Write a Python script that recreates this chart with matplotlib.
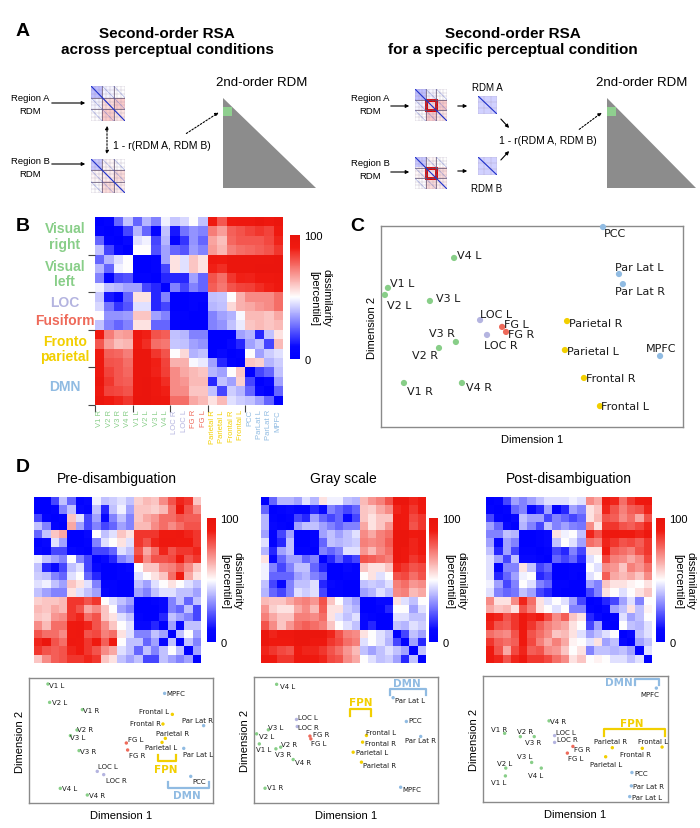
import numpy as np
import matplotlib.pyplot as plt
from matplotlib.colors import LinearSegmentedColormap
from matplotlib.patches import Polygon, Rectangle

plt.rcParams['font.family'] = ['Liberation Sans', 'DejaVu Sans']

# ---------------- data ----------------
regions = ['V1 R', 'V2 R', 'V3 R', 'V4 R', 'V1 L', 'V2 L', 'V3 L', 'V4 L',
           'LOC R', 'LOC L', 'FG R', 'FG L', 'Parietal R', 'Parietal L',
           'Frontal R', 'Frontal L', 'PCC', 'Par Lat L', 'Par Lat R', 'MPFC']
tick_names = ['V1 R', 'V2 R', 'V3 R', 'V4 R', 'V1 L', 'V2 L', 'V3 L', 'V4 L',
              'LOC R', 'LOC L', 'FG R', 'FG L', 'Parietal R', 'Parietal L',
              'Frontal R', 'Frontal L', 'PCC', 'ParLat L', 'ParLat R', 'MPFC']
groups = ['vis'] * 8 + ['loc'] * 2 + ['fg'] * 2 + ['fpn'] * 4 + ['dmn'] * 4
group_labels = ['Visual\nright', 'Visual\nleft', 'LOC', 'Fusiform', 'Fronto\nparietal', 'DMN']
group_rows = [1.5, 5.5, 8.5, 10.5, 13.5, 17.5]
group_keys = ['vis', 'vis', 'loc', 'fg', 'fpn', 'dmn']

# dissimilarity percentiles, across conditions (panel B)
rdm_all = [
    [0, 5, 25, 40, 25, 38, 30, 48, 42, 45, 50, 40, 88, 78, 92, 92, 92, 95, 92, 95],
    [5, 0, 5, 20, 38, 25, 5, 40, 10, 30, 35, 30, 65, 62, 75, 78, 80, 82, 80, 90],
    [25, 5, 0, 10, 45, 48, 20, 38, 5, 15, 35, 30, 70, 62, 78, 78, 80, 78, 82, 88],
    [40, 20, 10, 0, 50, 50, 22, 35, 30, 20, 38, 30, 65, 60, 70, 72, 75, 78, 80, 85],
    [25, 38, 45, 50, 0, 0, 5, 35, 55, 45, 60, 55, 92, 90, 95, 95, 96, 96, 96, 97],
    [38, 25, 48, 50, 0, 0, 5, 20, 55, 45, 60, 55, 88, 85, 95, 96, 96, 97, 97, 97],
    [30, 5, 20, 22, 5, 5, 0, 15, 15, 15, 35, 25, 82, 80, 88, 90, 92, 93, 93, 95],
    [48, 40, 38, 35, 35, 20, 15, 0, 30, 20, 30, 25, 78, 75, 82, 85, 85, 88, 90, 93],
    [40, 15, 5, 20, 55, 55, 15, 30, 0, 0, 5, 5, 40, 42, 50, 65, 70, 70, 70, 75],
    [42, 25, 20, 25, 45, 45, 15, 20, 0, 0, 5, 0, 35, 40, 55, 65, 65, 68, 70, 75],
    [50, 30, 30, 30, 60, 60, 35, 30, 5, 5, 0, 0, 30, 35, 40, 50, 62, 62, 60, 65],
    [40, 30, 20, 30, 55, 55, 25, 25, 5, 0, 0, 0, 30, 35, 40, 48, 60, 62, 60, 62],
    [92, 80, 62, 70, 92, 90, 78, 78, 40, 42, 30, 30, 0, 0, 0, 35, 38, 15, 40, 55],
    [80, 72, 60, 65, 90, 88, 70, 72, 40, 40, 35, 30, 0, 0, 10, 15, 35, 40, 20, 62],
    [90, 80, 75, 75, 95, 95, 82, 78, 50, 58, 35, 40, 0, 10, 0, 5, 50, 35, 42, 45],
    [92, 82, 80, 78, 95, 95, 88, 80, 62, 62, 48, 45, 35, 15, 5, 0, 60, 58, 38, 42],
    [92, 85, 78, 78, 95, 96, 85, 82, 70, 65, 62, 60, 38, 35, 50, 60, 0, 20, 25, 40],
    [95, 88, 80, 78, 96, 97, 90, 85, 70, 68, 62, 62, 15, 40, 35, 58, 20, 0, 10, 35],
    [92, 85, 82, 80, 96, 97, 90, 88, 70, 70, 60, 60, 40, 20, 42, 38, 25, 10, 0, 25],
    [95, 90, 88, 85, 97, 97, 92, 90, 75, 75, 65, 62, 55, 62, 45, 42, 40, 35, 25, 0],
]

rdm_pre = [
    [0, 0, 20, 40, 25, 5, 10, 48, 40, 42, 45, 40, 58, 62, 60, 70, 80, 88, 85, 60],
    [0, 0, 5, 30, 40, 10, 5, 40, 15, 40, 48, 35, 60, 60, 58, 62, 75, 95, 80, 70],
    [20, 5, 0, 5, 60, 45, 20, 35, 10, 30, 40, 30, 60, 65, 68, 75, 75, 80, 78, 78],
    [40, 30, 5, 0, 65, 35, 20, 30, 20, 25, 35, 30, 62, 62, 70, 75, 70, 75, 80, 80],
    [25, 40, 60, 65, 0, 0, 10, 50, 40, 45, 60, 55, 85, 85, 85, 90, 90, 92, 88, 85],
    [5, 10, 45, 35, 0, 0, 5, 30, 45, 50, 55, 45, 85, 80, 88, 92, 92, 90, 90, 85],
    [10, 5, 20, 20, 10, 5, 0, 20, 20, 25, 45, 40, 80, 65, 75, 88, 80, 85, 85, 88],
    [48, 40, 35, 30, 50, 30, 20, 0, 10, 15, 30, 35, 85, 70, 80, 80, 82, 90, 80, 85],
    [40, 15, 10, 20, 40, 45, 20, 10, 0, 0, 5, 10, 50, 60, 60, 70, 72, 78, 70, 60],
    [42, 40, 30, 25, 45, 50, 25, 15, 0, 0, 5, 5, 45, 50, 55, 60, 75, 90, 65, 55],
    [45, 48, 40, 35, 60, 55, 45, 30, 5, 5, 0, 0, 40, 35, 45, 50, 55, 50, 45, 40],
    [40, 35, 30, 30, 55, 45, 40, 35, 10, 5, 0, 0, 35, 30, 40, 45, 45, 40, 40, 35],
    [58, 60, 60, 62, 85, 85, 80, 85, 50, 45, 40, 35, 0, 0, 5, 10, 30, 40, 25, 40],
    [62, 60, 65, 62, 85, 80, 65, 70, 60, 50, 35, 30, 0, 0, 0, 10, 30, 25, 40, 20],
    [60, 58, 68, 70, 85, 88, 75, 80, 60, 55, 45, 40, 5, 0, 0, 15, 40, 35, 30, 20],
    [70, 62, 75, 75, 90, 92, 88, 80, 70, 60, 50, 45, 10, 10, 15, 0, 35, 10, 40, 40],
    [80, 75, 75, 70, 90, 92, 80, 82, 72, 75, 55, 45, 30, 30, 40, 35, 0, 40, 50, 35],
    [88, 95, 80, 75, 92, 90, 85, 90, 78, 90, 50, 40, 40, 25, 35, 10, 40, 0, 40, 30],
    [85, 80, 78, 80, 88, 90, 85, 80, 70, 65, 45, 40, 25, 40, 30, 40, 50, 40, 0, 35],
    [60, 70, 78, 80, 85, 85, 88, 85, 60, 55, 40, 35, 40, 20, 20, 40, 35, 30, 35, 0],
]

rdm_gray = [
    [0, 25, 38, 38, 35, 45, 38, 55, 48, 48, 40, 38, 62, 68, 72, 80, 95, 95, 88, 92],
    [25, 0, 5, 10, 5, 5, 15, 10, 30, 25, 20, 25, 60, 58, 65, 70, 88, 90, 85, 90],
    [38, 5, 0, 5, 20, 15, 35, 25, 20, 25, 10, 20, 60, 55, 60, 60, 92, 90, 82, 85],
    [38, 10, 5, 0, 35, 40, 40, 35, 30, 25, 30, 30, 65, 55, 60, 68, 92, 90, 80, 85],
    [35, 5, 20, 35, 0, 0, 5, 35, 40, 35, 40, 45, 70, 65, 72, 75, 95, 95, 90, 92],
    [45, 5, 15, 40, 0, 0, 5, 25, 40, 38, 40, 42, 72, 70, 72, 78, 95, 95, 88, 92],
    [38, 15, 35, 40, 5, 5, 0, 30, 25, 30, 45, 45, 68, 62, 70, 75, 95, 92, 88, 90],
    [55, 10, 25, 35, 35, 25, 30, 0, 15, 25, 15, 20, 80, 78, 75, 72, 95, 92, 85, 88],
    [48, 30, 20, 30, 40, 40, 25, 15, 0, 0, 10, 5, 60, 55, 55, 60, 88, 85, 80, 82],
    [48, 25, 25, 25, 35, 38, 30, 25, 0, 0, 5, 5, 50, 55, 45, 50, 80, 82, 75, 80],
    [40, 20, 10, 30, 40, 40, 45, 15, 10, 5, 0, 0, 40, 42, 40, 45, 72, 75, 68, 70],
    [38, 25, 20, 30, 45, 42, 45, 20, 5, 5, 0, 0, 35, 38, 45, 40, 70, 72, 62, 65],
    [62, 60, 60, 65, 70, 72, 68, 80, 60, 50, 40, 35, 0, 0, 10, 10, 55, 45, 40, 50],
    [68, 58, 55, 55, 65, 70, 62, 78, 55, 55, 42, 38, 0, 0, 5, 15, 50, 50, 35, 45],
    [72, 65, 60, 60, 72, 72, 70, 75, 55, 45, 40, 45, 10, 5, 0, 0, 45, 45, 40, 40],
    [80, 70, 60, 68, 75, 78, 75, 72, 60, 50, 45, 40, 10, 15, 0, 0, 40, 38, 45, 42],
    [95, 88, 92, 92, 95, 95, 95, 95, 88, 80, 72, 70, 55, 50, 45, 40, 0, 20, 40, 35],
    [95, 90, 90, 90, 95, 95, 92, 92, 85, 82, 75, 72, 45, 50, 45, 38, 20, 0, 35, 15],
    [88, 85, 82, 80, 90, 88, 88, 85, 80, 75, 68, 62, 40, 35, 40, 45, 40, 35, 0, 40],
    [92, 90, 85, 85, 92, 92, 90, 88, 82, 80, 70, 65, 50, 45, 40, 42, 35, 15, 40, 0],
]

rdm_post = [
    [0, 5, 20, 35, 30, 35, 40, 45, 45, 45, 48, 45, 70, 65, 90, 88, 75, 85, 90, 92],
    [5, 0, 5, 25, 30, 10, 15, 35, 5, 15, 35, 30, 55, 60, 88, 80, 72, 78, 80, 88],
    [20, 5, 0, 10, 40, 35, 35, 20, 30, 25, 20, 25, 55, 62, 80, 78, 70, 75, 65, 80],
    [35, 25, 10, 0, 38, 30, 20, 40, 30, 35, 30, 28, 70, 55, 85, 85, 80, 78, 82, 88],
    [30, 30, 40, 38, 0, 0, 5, 10, 55, 48, 50, 40, 88, 80, 92, 92, 90, 90, 88, 92],
    [35, 10, 35, 30, 0, 0, 5, 10, 40, 50, 45, 35, 75, 72, 88, 85, 80, 82, 78, 85],
    [40, 15, 35, 20, 5, 5, 0, 5, 20, 15, 30, 20, 55, 55, 90, 78, 75, 72, 80, 85],
    [45, 35, 20, 40, 10, 10, 5, 0, 25, 20, 25, 15, 45, 50, 82, 72, 70, 65, 70, 82],
    [45, 5, 30, 30, 55, 40, 20, 25, 0, 0, 5, 5, 50, 45, 70, 68, 60, 72, 68, 75],
    [45, 15, 25, 35, 48, 50, 15, 20, 0, 0, 5, 0, 45, 50, 78, 65, 62, 65, 60, 70],
    [48, 35, 20, 30, 50, 45, 30, 25, 5, 5, 0, 0, 35, 30, 60, 55, 55, 52, 50, 55],
    [45, 30, 25, 28, 40, 35, 20, 15, 5, 0, 0, 0, 20, 30, 55, 50, 45, 50, 55, 60],
    [70, 55, 55, 70, 88, 75, 55, 45, 50, 45, 35, 20, 0, 5, 15, 20, 35, 45, 30, 50],
    [65, 60, 62, 55, 80, 72, 55, 50, 45, 50, 30, 30, 5, 0, 10, 35, 40, 55, 40, 52],
    [90, 88, 80, 85, 92, 88, 90, 82, 70, 78, 60, 55, 15, 10, 0, 5, 45, 35, 40, 50],
    [88, 80, 78, 85, 92, 85, 78, 72, 68, 65, 55, 50, 20, 35, 5, 0, 50, 40, 38, 45],
    [75, 72, 70, 80, 90, 80, 75, 70, 60, 62, 55, 45, 35, 40, 45, 50, 0, 10, 40, 45],
    [85, 78, 75, 78, 90, 82, 72, 65, 72, 65, 52, 50, 45, 55, 35, 40, 10, 0, 35, 40],
    [90, 80, 65, 82, 88, 78, 80, 70, 68, 60, 50, 55, 30, 40, 40, 38, 40, 35, 0, 45],
    [92, 88, 80, 88, 92, 85, 85, 82, 75, 70, 55, 60, 50, 52, 50, 45, 45, 40, 45, 0],
]

# MDS coordinates (arbitrary units, 0-100 across the box)
mds_all_x = [7.6, 19.2, 24.8, 26.8, 2.3, 1.3, 16.2, 24.2, 35.1, 32.8, 41.4, 40.1,
             61.6, 60.9, 67.2, 72.5, 73.5, 78.8, 80.1, 92.4]
mds_all_y = [21.9, 39.3, 42.3, 21.9, 69.2, 65.7, 62.7, 84.1, 45.8, 53.2, 47.3, 49.8,
             52.7, 38.3, 24.4, 10.4, 99.5, 76.1, 71.1, 35.3]
mds_pre_x = [29.0, 26.1, 27.2, 31.7, 10.3, 11.2, 22.5, 17.0, 40.6, 37.1, 53.6, 52.9,
             74.1, 72.3, 72.8, 77.9, 87.9, 84.1, 94.9, 73.7]
mds_pre_y = [74.7, 58.4, 41.9, 6.4, 95.2, 80.5, 53.9, 11.7, 22.7, 25.3, 42.4, 48.0,
             51.7, 48.5, 63.2, 70.9, 21.3, 43.7, 61.9, 87.7]
mds_gray_x = [6.0, 14.5, 11.9, 21.3, 2.9, 1.4, 7.8, 12.3, 23.5, 23.1, 30.4, 30.9,
              58.4, 53.9, 59.0, 61.1, 82.8, 75.6, 90.6, 79.7]
mds_gray_y = [11.7, 44.3, 43.0, 34.5, 46.9, 54.9, 58.1, 94.2, 60.7, 66.3, 53.1, 50.9,
              32.4, 40.3, 48.3, 53.6, 64.7, 83.6, 52.8, 12.5]
mds_post_x = [11.7, 20.2, 27.7, 35.7, 12.1, 12.3, 26.3, 31.5, 38.7, 38.7, 48.6, 45.6,
              69.9, 66.3, 86.1, 96.8, 80.5, 79.3, 80.2, 93.7]
mds_post_y = [54.5, 51.9, 51.9, 64.4, 20.7, 26.9, 31.4, 26.9, 47.3, 52.7, 44.1, 38.8,
              43.1, 35.9, 42.6, 43.6, 23.4, 4.3, 12.8, 90.4]

# ---------------- style ----------------
colors = {'vis': '#88ce88', 'loc': '#b4b4e0', 'fg': '#ee6a5a',
          'fpn': '#f2cf00', 'dmn': '#90bbe2'}
cmap = LinearSegmentedColormap.from_list(
    'rdm', [(0, '#0000ff'), (0.1, '#0808ff'), (0.5, '#ffffff'), (0.9, '#f01a10'), (1, '#e8140c')])

# label offsets in pixels: (dx, dy, ha)
off_all = {'PCC': (1, -6, 'left'), 'V4 L': (3, 3, 'left'), 'Par Lat L': (-4, 7, 'left'),
           'Par Lat R': (-8, -7, 'left'), 'V1 L': (2, 5, 'left'), 'V2 L': (2, -10, 'left'),
           'V3 L': (6, 3, 'left'), 'LOC L': (0, 6, 'left'), 'FG L': (2, 3, 'left'),
           'FG R': (2, -2, 'left'), 'LOC R': (-3, -10, 'left'), 'Parietal R': (2, -2, 'left'),
           'V3 R': (-1, 9, 'right'), 'V2 R': (-1, -7, 'right'), 'Parietal L': (2, -1, 'left'),
           'MPFC': (1, 8, 'center'), 'Frontal R': (2, 0, 'left'), 'V1 R': (3, -8, 'left'),
           'V4 R': (4, -4, 'left'), 'Frontal L': (1, 0, 'left')}
off_pre = {'V1 L': (1, -1, 'left'), 'V2 L': (2, 0, 'left'), 'V1 R': (1, 0, 'left'),
           'V2 R': (0, 1, 'left'), 'V3 L': (0, -1, 'left'), 'V3 R': (1, 0, 'left'),
           'LOC L': (1, 5, 'left'), 'LOC R': (2, -5, 'left'), 'V4 L': (2, 0, 'left'),
           'V4 R': (2, 0, 'left'), 'FG L': (2, 4, 'left'), 'FG R': (1, -5, 'left'),
           'MPFC': (2, 0, 'left'), 'Frontal L': (-3, 3, 'right'), 'Frontal R': (-2, 1, 'right'),
           'Par Lat R': (9, 6, 'right'), 'Parietal R': (-9, 5, 'left'),
           'Parietal L': (-1, -5, 'center'), 'Par Lat L': (-1, -6, 'left'), 'PCC': (2, -5, 'left')}
off_gray = {'V4 L': (3, -2, 'left'), 'Par Lat L': (2, -2, 'left'), 'LOC L': (1, 2, 'left'),
            'LOC R': (1, 0, 'left'), 'PCC': (2, 1, 'left'), 'V3 L': (0, 3, 'left'),
            'V2 L': (2, -2, 'left'), 'FG R': (3, 2, 'left'), 'FG L': (0, -4, 'left'),
            'Frontal L': (0, 3, 'left'), 'Par Lat R': (0, -4, 'center'),
            'Frontal R': (2, -1, 'left'), 'V1 L': (-3, -5, 'left'), 'V2 R': (0, 3, 'left'),
            'V3 R': (-1, -5, 'left'), 'Parietal L': (3, 0, 'left'), 'V4 R': (2, -2, 'left'),
            'Parietal R': (2, -3, 'left'), 'V1 R': (2, 1, 'left'), 'MPFC': (2, -2, 'left')}
off_post = {'MPFC': (3, -6, 'right'), 'V4 R': (1, 0, 'left'), 'V1 R': (3, 4, 'right'),
            'V2 R': (-3, 6, 'left'), 'V3 R': (-1, -5, 'center'), 'LOC L': (1, 4, 'left'),
            'LOC R': (2, 3, 'left'), 'FG R': (1, -3, 'left'), 'FG L': (1, -5, 'left'),
            'Parietal R': (-2, 7, 'center'), 'Frontal R': (-7, -6, 'center'),
            'Frontal L': (6, 6, 'right'), 'Parietal L': (0, -7, 'center'),
            'V3 L': (1, 6, 'right'), 'V4 L': (2, -7, 'right'), 'V2 L': (6, 5, 'right'),
            'V1 L': (1, -6, 'right'), 'PCC': (2, 0, 'left'), 'Par Lat R': (2, 0, 'left'),
            'Par Lat L': (2, 0, 'left')}

W, H = 700, 829
fig = plt.figure(figsize=(7, 8.29), dpi=100)


def box(x0, y0, x1, y1):
    return [x0 / W, 1 - y1 / H, (x1 - x0) / W, (y1 - y0) / H]


ov = fig.add_axes([0, 0, 1, 1])
ov.set_xlim(0, W)
ov.set_ylim(H, 0)
ov.axis('off')
ov.set_zorder(10)


def heat(mat, rect, cbar_rect, lab_x):
    ax = fig.add_axes(box(*rect))
    m = np.array(mat, float)
    m = (m + m.T) / 2
    im = ax.imshow(m, cmap=cmap, vmin=0, vmax=100, aspect='auto', interpolation='nearest')
    for s in ax.spines.values():
        s.set_visible(False)
    ax.set_xticks([])
    ax.set_yticks([])
    cax = fig.add_axes(box(*cbar_rect))
    cb = fig.colorbar(im, cax=cax, ticks=[0, 100])
    cb.outline.set_visible(False)
    cax.tick_params(length=0, labelsize=8, pad=3)
    ov.text(lab_x, (cbar_rect[1] + cbar_rect[3]) / 2, 'dissimilarity\n[percentile]',
            rotation=270, ha='center', va='center', fontsize=8, linespacing=1.3)
    return ax


def mds(rect, xs, ys, offs, fs, s, lab_fs=8):
    ax = fig.add_axes(box(*rect))
    ax.set_xlim(0, 100)
    ax.set_ylim(0, 100)
    ax.set_xticks([])
    ax.set_yticks([])
    for sp in ax.spines.values():
        sp.set_color('#8a8a8a')
        sp.set_linewidth(1)
    for name, g, x, y in zip(regions, groups, xs, ys):
        ax.scatter(x, y, s=s, color=colors[g], edgecolors='none', zorder=3, clip_on=False)
        dx, dy, ha = offs[name]
        ax.annotate(name, (x, y), xytext=(dx, dy), textcoords='offset pixels',
                    ha=ha, va='center', fontsize=fs, family='DejaVu Sans',
                    color='#1a1a1a', zorder=4, annotation_clip=False)
    ax.set_xlabel('Dimension 1', fontsize=lab_fs, labelpad=5)
    ax.set_ylabel('Dimension 2', fontsize=lab_fs, labelpad=3)
    return ax


def bracket(ax, x0, x1, yb, yl, key, tx, ty):
    ax.plot([x0, x0, x1, x1], [yl, yb, yb, yl], color=colors[key], lw=1.6, zorder=2)
    ax.text(tx, ty, key.upper(), color=colors[key],
            fontsize=7.5, fontweight='bold', ha='center', va='center', family='DejaVu Sans')


# ---------------- panel A ----------------
icon_a = [[15, 45, 50], [45, 70, 80], [50, 80, 65]]
icon_b = [[20, 55, 50], [55, 60, 70], [50, 70, 60]]
icon_small = [[25]]


def icon(rect, blocks, red=False):
    ax = fig.add_axes(box(*rect))
    n = len(blocks)
    ax.imshow(np.array(blocks, float), cmap=cmap, vmin=0, vmax=100, alpha=0.3,
              extent=(0, n, n, 0), aspect='auto')
    fine = np.linspace(0, n, 3 * n + 1)
    for k in fine:
        ax.plot([k, k], [0, n], color='#9a8aaa', lw=0.3, alpha=0.6)
        ax.plot([0, n], [k, k], color='#9a8aaa', lw=0.3, alpha=0.6)
    for k in range(1, n):
        ax.plot([k, k], [0, n], color='#5a4a6a', lw=0.6, alpha=0.8)
        ax.plot([0, n], [k, k], color='#5a4a6a', lw=0.6, alpha=0.8)
    for i in range(n):
        for j in range(n):
            ax.plot([j, j + 1], [i, i + 1], color='#5566cc', lw=0.4, alpha=0.6)
    ax.plot([0, n], [0, n], color='#2233cc', lw=0.8)
    if red:
        ax.add_patch(Rectangle((1, 1), 1, 1, fill=False, ec='#e00000', lw=2.2))
    ax.set_xlim(0, n)
    ax.set_ylim(n, 0)
    ax.set_xticks([])
    ax.set_yticks([])
    for sp in ax.spines.values():
        sp.set_visible(False)


icon((91, 87, 125, 122), icon_a)
icon((91, 160, 125, 194), icon_b)
icon((415, 90, 447, 122), icon_a, red=True)
icon((415, 158, 447, 190), icon_b, red=True)
icon((478, 97, 497, 115), icon_small)
icon((478, 158, 497, 176), icon_small)

ov.text(23, 31, 'A', fontsize=14, fontweight='bold', ha='center', va='center')
ov.text(167, 42, 'Second-order RSA\nacross perceptual conditions', fontsize=11,
        fontweight='bold', ha='center', va='center', linespacing=1.2)
ov.text(513, 42, 'Second-order RSA\nfor a specific perceptual condition', fontsize=11,
        fontweight='bold', ha='center', va='center', linespacing=1.2)

arrow = dict(arrowstyle='-|>', color='black', lw=0.8, mutation_scale=5)
dotted = dict(arrowstyle='-|>', color='black', lw=0.8, ls=(0, (1.5, 1.5)), mutation_scale=5)
dotted2 = dict(arrowstyle='<|-|>', color='black', lw=0.8, ls=(0, (1.5, 1.5)), mutation_scale=5)

for cx, y in [(30, 105), (370, 105)]:
    ov.text(cx, y, 'Region A\nRDM', fontsize=6.8, ha='center', va='center', linespacing=1.5)
for cx, y in [(30, 168), (370, 170)]:
    ov.text(cx, y, 'Region B\nRDM', fontsize=6.8, ha='center', va='center', linespacing=1.5)
ov.annotate('', (88, 104), (49, 104), arrowprops=arrow)
ov.annotate('', (88, 165), (49, 165), arrowprops=arrow)
ov.annotate('', (412, 107), (388, 107), arrowprops=arrow)
ov.annotate('', (412, 173), (388, 173), arrowprops=arrow)
ov.annotate('', (470, 107), (455, 107), arrowprops=arrow)
ov.annotate('', (470, 172), (455, 172), arrowprops=arrow)
ov.annotate('', (511, 131), (499, 118), arrowprops=arrow)
ov.annotate('', (511, 150), (499, 163), arrowprops=arrow)
ov.annotate('', (107, 158), (107, 124), arrowprops=dotted2)
ov.annotate('', (221, 112), (184, 136), arrowprops=dotted)
ov.annotate('', (604, 112), (577, 132), arrowprops=dotted)

ov.text(113, 146, '1 - r(RDM A, RDM B)', fontsize=7.5, ha='left', va='center')
ov.text(548, 141, '1 - r(RDM A, RDM B)', fontsize=7.5, ha='center', va='center')
ov.text(487, 88, 'RDM A', fontsize=7, ha='center', va='center')
ov.text(487, 189, 'RDM B', fontsize=7, ha='center', va='center')
ov.text(262, 83, '2nd-order RDM', fontsize=9.5, ha='center', va='center')
ov.text(642, 83, '2nd-order RDM', fontsize=9.5, ha='center', va='center')

for tx, right in [(223, 316), (607, 696)]:
    ov.add_patch(Polygon([(tx, 99), (tx, 189), (right, 189)], closed=True,
                         fc='#8c8c8c', ec='none'))
    ov.add_patch(Rectangle((tx, 108), 9, 9, fc='#8fcf8f', ec='none'))

# ---------------- panel B ----------------
ov.text(23, 226, 'B', fontsize=14, fontweight='bold', ha='center', va='center')
axb = heat(rdm_all, (95, 218, 283, 406), (290, 236, 300, 360), 320)
axb.set_xticks([-0.5, 3.5, 7.5, 11.5, 15.5])
axb.set_xticklabels([])
axb.set_yticks([3.5, 7.5, 11.5, 15.5, 19.5])
axb.set_yticklabels([])
axb.tick_params(which='major', length=5, width=0.8, color='#444444', direction='out')
axb.set_xticks(np.arange(20), minor=True)
axb.set_xticklabels(tick_names, minor=True, rotation=90, fontsize=5.5)
axb.tick_params(which='minor', length=0, pad=3)
for lbl, g in zip(axb.get_xticklabels(minor=True), groups):
    lbl.set_color(colors[g])
for text, row, key in zip(group_labels, group_rows, group_keys):
    axb.text(-0.16, row, text, transform=axb.get_yaxis_transform(), ha='center',
             va='center', fontsize=10, fontweight='bold', color=colors[key],
             linespacing=1.15)

# ---------------- panel C ----------------
ov.text(357, 226, 'C', fontsize=14, fontweight='bold', ha='center', va='center')
mds((381, 227, 683, 428), mds_all_x, mds_all_y, off_all, 8, 20)

# ---------------- panel D ----------------
ov.text(23, 468, 'D', fontsize=14, fontweight='bold', ha='center', va='center')
ov.text(117, 479, 'Pre-disambiguation', fontsize=10, ha='center', va='center')
ov.text(343, 479, 'Gray scale', fontsize=10, ha='center', va='center')
ov.text(569, 479, 'Post-disambiguation', fontsize=10, ha='center', va='center')

heat(rdm_pre, (34, 498, 201, 664), (207, 519, 216, 643), 231)
heat(rdm_gray, (261, 498, 426, 664), (429, 519, 438, 643), 455)
heat(rdm_post, (486, 498, 652, 664), (656, 519, 665, 643), 684)

axp = mds((29, 679, 213, 804), mds_pre_x, mds_pre_y, off_pre, 5, 6)
bracket(axp, 70.3, 79.7, 33.3, 38.7, 'fpn', 74.1, 27.2)
bracket(axp, 75.5, 97.8, 11.7, 17.1, 'dmn', 85.9, 6.4)
axg = mds((254, 678, 438, 804), mds_gray_x, mds_gray_y, off_gray, 5, 6)
bracket(axg, 52.4, 63.8, 74.3, 69.0, 'fpn', 58.0, 80.1)
bracket(axg, 73.8, 93.7, 90.2, 85.4, 'dmn', 83.2, 95.5)
axq = mds((483, 677, 668, 803), mds_post_x, mds_post_y, off_post, 5, 6)
bracket(axq, 65.2, 98.2, 58.0, 52.1, 'fpn', 80.5, 62.5)
bracket(axq, 82.3, 95.1, 97.3, 92.6, 'dmn', 73.5, 95.2)

fig.savefig('out.png', dpi=100)
